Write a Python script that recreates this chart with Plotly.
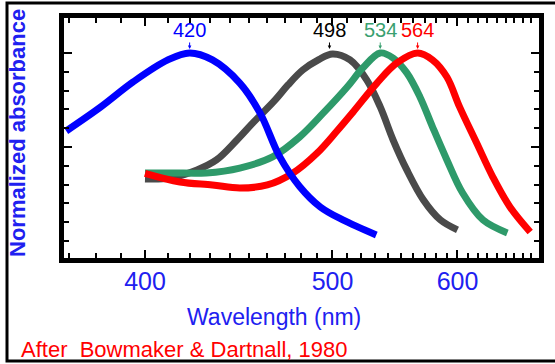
import plotly.graph_objects as go

# ---- data (wavelength nm, normalized absorbance) ----
blue_wl = [369, 382, 395, 410, 420, 431, 445, 456, 467, 479, 492, 507, 531]
blue_abs = [0.585, 0.713, 0.846, 0.963, 1.0, 0.963, 0.840, 0.68, 0.45, 0.29, 0.181, 0.112, 0.032]

gray_wl = [400, 411, 423.5, 433, 443.5, 452, 464, 472, 481, 491, 500, 512, 524, 534, 544, 555, 569, 584, 600]
gray_abs = [0.330, 0.335, 0.378, 0.431, 0.537, 0.628, 0.745, 0.83, 0.91, 0.965, 0.995, 0.963, 0.856, 0.713, 0.537, 0.378, 0.218, 0.112, 0.059]

green_wl = [400, 412, 428, 445, 463, 479, 494, 510, 521, 534, 544, 555, 566, 577, 590, 605, 625.5, 652]
green_abs = [0.362, 0.362, 0.362, 0.388, 0.447, 0.553, 0.681, 0.819, 0.92, 1.0, 0.973, 0.894, 0.766, 0.606, 0.431, 0.255, 0.112, 0.043]

red_wl = [400, 415.5, 431, 445, 460, 475, 490, 503, 514, 531.5, 547, 564, 577, 590, 602, 619, 636, 655, 679]
red_abs = [0.36, 0.314, 0.298, 0.282, 0.298, 0.362, 0.468, 0.585, 0.685, 0.840, 0.947, 1.0, 0.963, 0.872, 0.713, 0.521, 0.340, 0.181, 0.048]

peak_labels = ["420", "498", "534", "564"]
peak_wl = [420, 498, 534, 564]
tick_labels = ["400", "500", "600"]
tick_wl = [400, 500, 600]
minor_wl = list(range(370, 690, 10))

BLUE = "#0000ff"
GRAY = "#4a4a4a"
GREEN = "#2e9a6a"
RED = "#ff0000"
TXTBLUE = "#2020f0"
FONT = "Arial, Liberation Sans, sans-serif"


def wn(wl):
    return [1e7 / w for w in wl]


fig = go.Figure()
for wl, ab, col in [(gray_wl, gray_abs, GRAY), (green_wl, green_abs, GREEN),
                    (red_wl, red_abs, RED), (blue_wl, blue_abs, BLUE)]:
    fig.add_trace(go.Scatter(x=wn(wl), y=ab, mode="lines",
                             line=dict(color=col, width=7, shape="spline", smoothing=1.0),
                             hoverinfo="skip", showlegend=False))

peak_cols = [BLUE, "#000000", "#3aa070", RED]
for lab, pw, c in zip(peak_labels, peak_wl, peak_cols):
    fig.add_annotation(x=1e7 / pw, y=1.0, xref="x", yref="y", text=lab,
                       showarrow=True, ax=0, ay=-23, arrowhead=2, arrowsize=0.7,
                       arrowwidth=1, arrowcolor=c, standoff=4,
                       font=dict(family=FONT, size=20, color=c))

fig.add_annotation(x=-0.0968, y=0.521, xref="paper", yref="paper",
                   xanchor="center", yanchor="middle",
                   text="<b>Normalized absorbance</b>", textangle=-90, showarrow=False,
                   font=dict(family=FONT, size=22, color=TXTBLUE))
fig.add_annotation(x=0.442, y=-0.246, xref="paper", yref="paper",
                   xanchor="center", yanchor="middle",
                   text="Wavelength (nm)", showarrow=False,
                   font=dict(family=FONT, size=23, color=TXTBLUE))
fig.add_annotation(x=-0.0947, y=-0.383, xref="paper", yref="paper",
                   xanchor="left", yanchor="middle",
                   text="After  Bowmaker &amp; Dartnall, 1980", showarrow=False,
                   font=dict(family=FONT, size=22, color=RED))

fig.add_shape(type="rect", xref="paper", yref="paper", x0=-0.12, x1=1.044,
              y0=-0.429, y1=1.0625, line=dict(color="black", width=3))

fig.update_layout(
    width=555, height=364,
    margin=dict(l=64, r=16, t=18, b=106),
    paper_bgcolor="white", plot_bgcolor="white",
    xaxis=dict(range=[27160, 14493], tickvals=wn(tick_wl), ticktext=tick_labels,
               ticks="inside", ticklen=8, tickwidth=2, tickcolor="black",
               minor=dict(tickvals=wn(minor_wl), ticks="inside", ticklen=5,
                          tickwidth=1.5, tickcolor="black"),
               showline=True, linewidth=5, linecolor="black", mirror="allticks",
               showgrid=False, zeroline=False, ticklabelstandoff=-3,
               tickfont=dict(family=FONT, size=25, color=TXTBLUE)),
    yaxis=dict(range=[-0.0904, 1.186], tickvals=[0.5, 1.0], showticklabels=False,
               ticks="inside", ticklen=8, tickwidth=2, tickcolor="black",
               minor=dict(tickvals=[i / 10 for i in range(0, 11)], ticks="inside",
                          ticklen=5, tickwidth=1.5, tickcolor="black"),
               showline=True, linewidth=5, linecolor="black", mirror="allticks",
               showgrid=False, zeroline=False),
)

fig.write_html("out.html", config={"displayModeBar": False},
               post_script="document.body.style.margin='0';document.body.style.overflow='hidden';")
